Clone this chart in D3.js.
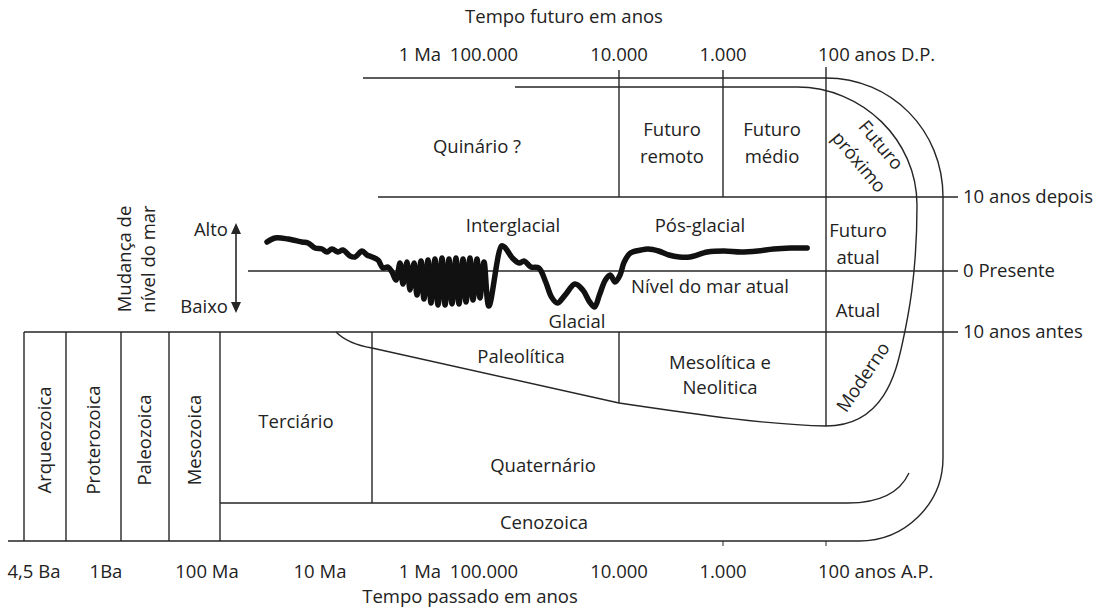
<!DOCTYPE html>
<html><head><meta charset="utf-8">
<script src="https://cdn.jsdelivr.net/npm/d3@7"></script>
<style>
body{margin:0;background:#fff}
text{font-family:"Open Sans","Noto Sans",sans-serif;font-size:18.5px;fill:#222}
</style>
</head><body>
<svg id="c" width="1109" height="610"></svg>
<script>
// ---------------- DATA ----------------
// past-time axis: log10(years before present)
const pastTickLog = [9.653, 9, 8, 7, 6, 5, 4, 3, 2];
const pastTickLabels = ["4,5 Ba", "1Ba", "100 Ma", "10 Ma", "1 Ma", "100.000", "10.000", "1.000", "100 anos A.P."];
// future-time axis: log10(years after present)
const futureTickLog = [6, 5, 4, 3, 2];
const futureTickLabels = ["1 Ma", "100.000", "10.000", "1.000", "100 anos D.P."];
// time rows (years relative to present)
const rowYears = [10, 0, -10];
const rowLabels = ["10 anos depois", "0 Presente", "10 anos antes"];
// eras (schematic columns)
const eras = ["Arqueozoica", "Proterozoica", "Paleozoica", "Mesozoica"];
// sea level curve: log10(years ago) and relative level (+ high, - low)
const seaLog = [7.469, 7.398, 7.283, 7.159, 7.106, 7.044, 6.98, 6.93, 6.88, 6.82, 6.77, 6.70, 6.65, 6.58, 6.53, 6.48, 6.42, 6.37, 6.32, 6.28,
  6.24, 6.20, 6.17, 6.13, 6.10, 6.06, 6.03, 5.984, 5.938, 5.875, 5.828, 5.766, 5.719, 5.656, 5.609, 5.547, 5.5, 5.438, 5.391, 5.328,
  5.281, 5.219, 5.172, 5.109, 5.063, 5.0, 4.964, 4.870, 4.848, 4.790, 4.739, 4.703, 4.652, 4.594, 4.543, 4.5, 4.457, 4.399, 4.326,
  4.268, 4.217, 4.181, 4.145, 4.101, 4.065, 4.029, 3.99, 3.95, 3.89, 3.79, 3.72, 3.62, 3.52, 3.42, 3.32, 3.15, 2.99, 2.827, 2.663,
  2.51, 2.346, 2.183];
const seaLevel = [29, 33, 32, 29, 28, 23, 22, 19, 22, 19, 21, 15, 14, 20, 16, 14, 11, 3, 4, -1,
  -9, 8, -13, 9, -19, 8, -24, 10, -28, 11, -32, 12, -34, 13, -34, 12, -33, 13, -33, 12,
  -31, 13, -29, 12, -27, 9, -35, 25, 24, 13, 8, 10, 4, 3, -11, -26, -32, -24, -13,
  -19, -31, -36, -24, -9, -4, -11, -4, 9, 18, 21, 22, 20, 16, 14, 14, 19, 20, 19, 20,
  22, 23, 23];
// boundaries (log10 years ago)
const quaternaryStartLog = 6.48;
const cenozoicStartLog = 7.885;

// ---------------- LAYOUT ----------------
const svg = d3.select("#c");
const ink = "#262626";
const x = d3.scaleLinear().domain(pastTickLog).range([34, 106, 207, 320, 420, 484, 619, 723, 826]);
const rowY = d3.scaleLinear().domain(rowYears).range([197, 271, 332]);
const seaY = d3.scaleLinear().domain([-40, 40]).range([311, 231]);
const eraX = d3.scaleLinear().domain([0, 1, 2, 3, 4]).range([24, 66, 121, 169, x(cenozoicStartLog)]);
const yTopOuter = 78, yTopInner = 87, yBotOuter = 541, yBotInner = 503;
const xRight = 943, xLineEnd = 958;

const g = svg.append("g").attr("fill", "none").attr("stroke", ink).attr("stroke-width", 1.4);

// horizontal time rows
g.append("line").attr("x1", 378).attr("x2", xLineEnd).attr("y1", rowY(10)).attr("y2", rowY(10));
g.append("line").attr("x1", 248).attr("x2", xLineEnd).attr("y1", rowY(0)).attr("y2", rowY(0));
g.append("line").attr("x1", eraX(0)).attr("x2", xLineEnd).attr("y1", rowY(-10)).attr("y2", rowY(-10));

// outer frame: top line, right side, bottom line
const x100 = x(2);
g.append("path").attr("d",
  `M363,${yTopOuter} H${x100} C${x100 + 65},${yTopOuter} ${xRight},${yTopOuter + 52} ${xRight},${rowY(10)}
   V458 C${xRight},504 ${xRight - 38},${yBotOuter} ${xRight - 84},${yBotOuter} H8`);

// inner line (future top + present/past modern curve + paleolithic line)
g.append("path").attr("d",
  `M515,${yTopInner} H797 C862,${yTopInner} 917,140 917,205 C917,275 908,318 902,345
   C896,372 884,426 ${x100},426 C770,425 700,415 ${x(4)},403 L${x(quaternaryStartLog)},348 Q348,344 336,${rowY(-10)}`);

// inner bottom line (Quaternário / Cenozoica)
g.append("path").attr("d", `M${x(cenozoicStartLog)},${yBotInner} H848 Q895,${yBotInner} 909,473`);

// verticals
g.append("line").attr("x1", x(4)).attr("x2", x(4)).attr("y1", 70).attr("y2", rowY(10));
g.append("line").attr("x1", x(3)).attr("x2", x(3)).attr("y1", 70).attr("y2", rowY(10));
g.append("line").attr("x1", x100).attr("x2", x100).attr("y1", 67).attr("y2", 426);
g.append("line").attr("x1", x(4)).attr("x2", x(4)).attr("y1", rowY(-10)).attr("y2", 403);
g.append("line").attr("x1", x(quaternaryStartLog)).attr("x2", x(quaternaryStartLog)).attr("y1", rowY(-10)).attr("y2", yBotInner);
d3.range(5).forEach(i => {
  g.append("line").attr("x1", eraX(i)).attr("x2", eraX(i)).attr("y1", rowY(-10)).attr("y2", yBotOuter);
});
// small bottom ticks
[3, 2].forEach(v => g.append("line").attr("x1", x(v)).attr("x2", x(v)).attr("y1", yBotOuter).attr("y2", yBotOuter + 5).attr("stroke-width", 1));

// sea-level arrow
const ax = 236;
g.append("line").attr("x1", ax).attr("x2", ax).attr("y1", 232).attr("y2", 304).attr("stroke-width", 1.6);
svg.append("path").attr("fill", ink).attr("d", `M${ax},223 L${ax - 5},234 L${ax + 5},234 Z`);
svg.append("path").attr("fill", ink).attr("d", `M${ax},313 L${ax - 5},302 L${ax + 5},302 Z`);

// sea level curve
const seaPts = seaLog.map((l, i) => [x(l), seaY(seaLevel[i])]);
svg.append("path").datum(seaPts)
  .attr("fill", "none").attr("stroke", "#111").attr("stroke-width", 5.5)
  .attr("stroke-linecap", "round").attr("stroke-linejoin", "round")
  .attr("d", d3.line().curve(d3.curveCatmullRom.alpha(0.5)));

// ---------------- TEXT ----------------
function txt(s, px, py, opts = {}) {
  const t = svg.append("text").attr("x", px).attr("y", py).attr("dy", "0.35em")
    .attr("text-anchor", opts.anchor || "middle").text(s);
  if (opts.rot !== undefined) t.attr("transform", `rotate(${opts.rot},${px},${py})`);
  return t;
}
txt("Tempo futuro em anos", 564, 17);
futureTickLog.forEach((v, i) => {
  const last = i === futureTickLog.length - 1;
  txt(futureTickLabels[i], last ? x(v) - 8 : x(v), 55, { anchor: last ? "start" : "middle" });
});
pastTickLog.forEach((v, i) => {
  const last = i === pastTickLog.length - 1;
  txt(pastTickLabels[i], last ? x(v) - 8 : x(v), 572, { anchor: last ? "start" : "middle" });
});
txt("Tempo passado em anos", 470, 597);
rowYears.forEach((v, i) => txt(rowLabels[i], xLineEnd + 5, rowY(v), { anchor: "start" }));

txt("Quinário ?", 477, 147);
txt("Futuro", 672, 130); txt("remoto", 672, 157);
txt("Futuro", 772, 130); txt("médio", 772, 157);
txt("Futuro", 881, 145, { rot: 50 }); txt("próximo", 859, 162, { rot: 50 });
txt("Interglacial", 513, 226);
txt("Pós-glacial", 700, 226);
txt("Futuro", 858, 231); txt("atual", 858, 258);
txt("Alto", 228, 230, { anchor: "end" });
txt("Baixo", 228, 307, { anchor: "end" });
txt("Mudança de", 125, 259, { rot: -90 });
txt("nível do mar", 149, 259, { rot: -90 });
txt("Nível do mar atual", 710, 287);
txt("Glacial", 577, 322);
txt("Atual", 858, 311);
txt("Paleolítica", 521, 357);
txt("Mesolítica e", 720, 363); txt("Neolitica", 720, 388);
txt("Moderno", 863, 377, { rot: -56 });
txt("Terciário", 296, 422);
txt("Quaternário", 543, 466);
txt("Cenozoica", 544, 523);
eras.forEach((e, i) => txt(e, (eraX(i) + eraX(i + 1)) / 2, 440, { rot: -90 }));
</script>
</body></html>
